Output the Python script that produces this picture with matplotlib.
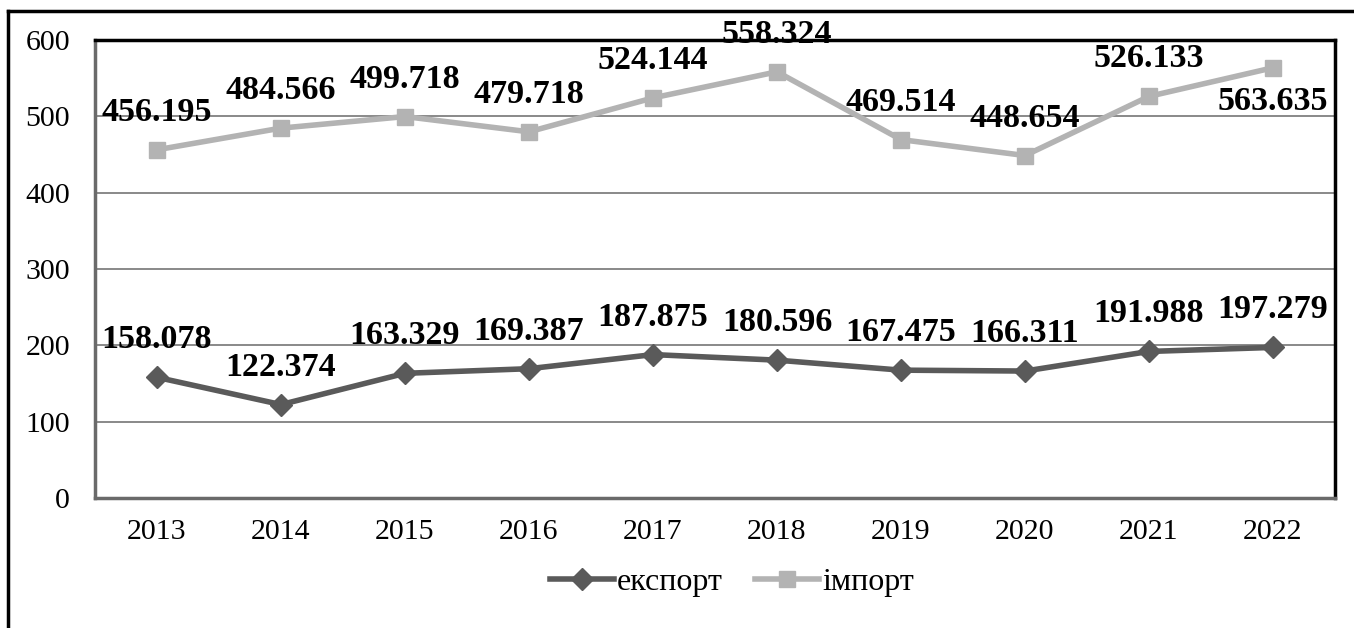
import matplotlib.pyplot as plt
from matplotlib.lines import Line2D

years = ["2013", "2014", "2015", "2016", "2017", "2018", "2019", "2020", "2021", "2022"]
export = [158.078, 122.374, 163.329, 169.387, 187.875, 180.596, 167.475, 166.311, 191.988, 197.279]
imports = [456.195, 484.566, 499.718, 479.718, 524.144, 558.324, 469.514, 448.654, 526.133, 563.635]
import_below = [False] * 9 + [True]

plt.rcParams['font.family'] = ['Liberation Serif', 'DejaVu Serif']

W, H = 1354, 628
fig = plt.figure(figsize=(W / 100, H / 100), dpi=100)
ax = fig.add_axes([95 / W, 1 - 498 / H, 1240 / W, 458 / H])

x = list(range(len(years)))
exp_col = "#5a5a5a"
imp_col = "#b3b3b3"

ax.plot(x, export, color=exp_col, lw=4, marker="D", ms=11, mec=exp_col, mfc=exp_col, label="експорт", zorder=3)
ax.plot(x, imports, color=imp_col, lw=4, marker="s", ms=12, mec=imp_col, mfc=imp_col, label="імпорт", zorder=3)

for i, v in enumerate(export):
    ax.annotate(f"{v:.3f}", (i, v), xytext=(0, 27), textcoords="offset points",
                ha="center", va="center", fontsize=24.5, fontweight="bold", zorder=5)
for i, v in enumerate(imports):
    dy = -24 if import_below[i] else 27
    ax.annotate(f"{v:.3f}", (i, v), xytext=(0, dy), textcoords="offset points",
                ha="center", va="center", fontsize=24.5, fontweight="bold", zorder=5,
                annotation_clip=False)

ax.set_xlim(-0.5, len(years) - 0.5)
ax.set_ylim(0, 600)
ax.set_yticks(range(0, 601, 100))
ax.set_xticks(x)
ax.set_xticklabels(years)
ax.tick_params(length=0, labelsize=21.5)
ax.tick_params(axis="y", pad=18)
ax.tick_params(axis="x", pad=15)
ax.grid(axis="y", color="#808080", lw=1.3)
ax.set_axisbelow(True)

for s in ["top", "right"]:
    ax.spines[s].set_color("black")
    ax.spines[s].set_linewidth(2.5)
for s in ["left", "bottom"]:
    ax.spines[s].set_color("#6a6a6a")
    ax.spines[s].set_linewidth(2.5)

ax.legend(loc="center", bbox_to_anchor=(732 / W, 1 - 582 / H), bbox_transform=fig.transFigure,
          ncol=2, frameon=False, fontsize=23, handlelength=2.0, handletextpad=0.1,
          columnspacing=1.0)

# outer frame: only left and top edges
fig.add_artist(Line2D([8 / W, 8 / W], [0, 1 - 11 / H], color="black", lw=2.5, transform=fig.transFigure))
fig.add_artist(Line2D([8 / W, 1], [1 - 11 / H, 1 - 11 / H], color="black", lw=2.5, transform=fig.transFigure))

fig.savefig("out.png", dpi=100)
